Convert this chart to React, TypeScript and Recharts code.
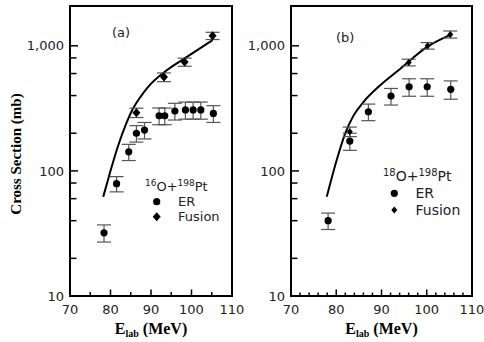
import React from "react";
import {
  ComposedChart,
  ErrorBar,
  Label,
  Legend,
  Line,
  ReferenceArea,
  Scatter,
  XAxis,
  YAxis,
} from "recharts";

// panel (a): 16O + 198Pt
const erAEnergy = [78.4, 81.5, 84.5, 86.4, 88.4, 92.0, 93.4, 95.9, 98.5, 100.4, 102.3, 105.4];
const erAValue = [32, 79, 142, 200, 212, 276, 276, 301, 307, 307, 307, 288];
const erAError = [5, 11, 21, 30, 32, 42, 42, 46, 48, 48, 48, 44];
const fusAEnergy = [86.4, 93.2, 98.3, 105.2];
const fusAValue = [292, 562, 741, 1202];
const fusAError = [25, 45, 55, 80];
const curveAEnergy = [78.2, 79.8, 81.8, 83.9, 85.5, 87.4, 89.3, 93.4, 98.3, 105.2];
const curveAValue = [62, 95, 156, 240, 312, 391, 470, 620, 793, 1111];

// panel (b): 18O + 198Pt
const erBEnergy = [78.2, 83.0, 87.1, 92.1, 96.1, 100.1, 105.3];
const erBValue = [40, 173, 297, 396, 470, 470, 449];
const erBError = [6, 27, 45, 60, 75, 75, 75];
const fusBEnergy = [83.0, 96.0, 100.2, 105.2];
const fusBValue = [206, 736, 1000, 1233];
const fusBError = [18, 45, 60, 80];
const curveBEnergy = [77.9, 80.1, 81.9, 83.75, 86.0, 89.6, 94.1, 100.0, 105.1];
const curveBValue = [62, 122, 196, 274, 355, 479, 653, 977, 1217];

const yTicks = [10, 20, 40, 60, 80, 100, 200, 400, 600, 800, 1000];
const xTicksA = [70, 75, 80, 85, 90, 95, 100, 105, 110];
const xTicksB = [70, 72, 74, 76, 78, 80, 82, 84, 86, 88, 90, 92, 94, 96, 98, 100, 102, 104, 106, 108, 110];

const Y_TOP = 2080;
const Y_TM = 6;
const X_TM = 8;
const TICK_FONT = "DejaVu Sans, sans-serif";
const SERIF = "Liberation Serif, Times New Roman, serif";

type Pt = { e: number; v: number; err?: number };
const pts = (es: number[], vs: number[], errs?: number[]): Pt[] =>
  es.map((e, i) => ({ e, v: vs[i], err: errs ? errs[i] : undefined }));

const Dot = (p: any) => <circle cx={p.cx} cy={p.cy} r={3.6} fill="#000" />;
const diamond = (s: number) => (p: any) => (
  <polygon
    points={`${p.cx},${p.cy - s - 0.5} ${p.cx + s},${p.cy} ${p.cx},${p.cy + s + 0.5} ${p.cx - s},${p.cy}`}
    fill="#000"
  />
);

const YTick = (props: any) => {
  const { x, y, payload } = props;
  const v = payload.value;
  const ax = x + Y_TM;
  const major = v === 10 || v === 100 || v === 1000;
  return (
    <g>
      {v !== 10 && (
        <line x1={ax} x2={ax + (major ? 8 : 6.5)} y1={y} y2={y} stroke="#000" strokeWidth={1.5} />
      )}
      {major && (
        <text x={x} y={y} dy="0.36em" textAnchor="end" fontFamily={TICK_FONT} fontSize={13} fill="#222">
          {v.toLocaleString("en-US")}
        </text>
      )}
    </g>
  );
};

const makeXTick = (minorLen: number) => (props: any) => {
  const { x, y, payload } = props;
  const v = payload.value;
  const ay = y - X_TM;
  const major = v % 10 === 0;
  return (
    <g>
      {v !== 70 && v !== 110 && (
        <line x1={x} x2={x} y1={ay} y2={ay - (major ? 6.5 : minorLen)} stroke="#000" strokeWidth={1.5} />
      )}
      {major && (
        <text x={x} y={y} dy="0.75em" textAnchor="middle" fontFamily={TICK_FONT} fontSize={13} fill="#222">
          {v}
        </text>
      )}
    </g>
  );
};

type Legendish = {
  tag: string;
  tagX: number;
  tagY: number;
  a: string;
  b: string;
  titleX: number;
  titleY: number;
  fs: number;
  supFs: number;
  markX: number;
  textX: number;
  erY: number;
  fusY: number;
  dSize: number;
};

function PanelKey({ k, w, h }: { k: Legendish; w: number; h: number }) {
  const D = diamond(k.dSize);
  return (
    <svg width={w} height={h} style={{ display: "block", overflow: "visible" }}>
      <text x={k.tagX} y={k.tagY} fontFamily={TICK_FONT} fontSize={13} fill="#222">
        {k.tag}
      </text>
      <text x={k.titleX} y={k.titleY} fontFamily={TICK_FONT} fontSize={k.fs} fill="#222">
        <tspan fontSize={k.supFs} dy={-5}>{k.a}</tspan>
        <tspan dy={5}>O+</tspan>
        <tspan fontSize={k.supFs} dy={-5}>{k.b}</tspan>
        <tspan dy={5}>Pt</tspan>
      </text>
      <Dot cx={k.markX} cy={k.erY} />
      <text x={k.textX} y={k.erY} dy="0.36em" fontFamily={TICK_FONT} fontSize={k.fs} fill="#222">
        ER
      </text>
      <D cx={k.markX} cy={k.fusY} />
      <text x={k.textX} y={k.fusY} dy="0.36em" fontFamily={TICK_FONT} fontSize={k.fs} fill="#222">
        Fusion
      </text>
    </svg>
  );
}

function Panel(props: {
  left: number;
  width: number;
  mL: number;
  mR: number;
  er: Pt[];
  fus: Pt[];
  curve: Pt[];
  xTicks: number[];
  minorLen: number;
  k: Legendish;
  yTitle?: boolean;
}) {
  const { left, width, mL, mR, er, fus, curve, xTicks, minorLen, k, yTitle } = props;
  const plotL = mL + 60;
  const plotW = width - plotL - mR;
  const cx = plotL + plotW / 2;
  return (
    <div style={{ position: "absolute", left, top: 0 }}>
      <ComposedChart width={width} height={342} margin={{ top: 6, right: mR, bottom: 16, left: mL }}>
        <XAxis
          type="number"
          dataKey="e"
          domain={[70, 110]}
          ticks={xTicks}
          interval={0}
          allowDataOverflow
          axisLine={false}
          tickLine={false}
          tickSize={0}
          tickMargin={X_TM}
          height={30}
          tick={makeXTick(minorLen)}
        >
          <Label
            content={() => (
              <text x={cx} y={334} textAnchor="middle" fontFamily={SERIF} fontWeight="bold" fontSize={16} fill="#000">
                E<tspan fontSize={10} dy={3}>lab</tspan>
                <tspan dy={-3}> (MeV)</tspan>
              </text>
            )}
          />
        </XAxis>
        <YAxis
          type="number"
          dataKey="v"
          scale="log"
          domain={[10, Y_TOP]}
          ticks={yTicks}
          interval={0}
          allowDataOverflow
          axisLine={false}
          tickLine={false}
          tickSize={0}
          tickMargin={Y_TM}
          width={60}
          tick={YTick}
        >
          {yTitle && (
            <Label
              content={() => (
                <text
                  transform="translate(21,154) rotate(-90)"
                  textAnchor="middle"
                  fontFamily={SERIF}
                  fontWeight="bold"
                  fontSize={15}
                  fill="#000"
                >
                  Cross Section (mb)
                </text>
              )}
            />
          )}
        </YAxis>
        <ReferenceArea x1={70} x2={110} y1={10} y2={Y_TOP} fill="none" stroke="#000" strokeWidth={2} />
        <Line
          data={curve}
          dataKey="v"
          type="monotone"
          dot={false}
          stroke="#000"
          strokeWidth={2}
          isAnimationActive={false}
        />
        <Scatter data={er} dataKey="v" shape={Dot} isAnimationActive={false}>
          <ErrorBar dataKey="err" direction="y" width={7} stroke="#555" strokeWidth={1.2} />
        </Scatter>
        <Scatter data={fus} dataKey="v" shape={diamond(k.dSize)} isAnimationActive={false}>
          <ErrorBar dataKey="err" direction="y" width={7} stroke="#555" strokeWidth={1.2} />
        </Scatter>
        <Legend
          layout="vertical"
          align="center"
          verticalAlign="middle"
          wrapperStyle={{ left: plotL, top: 6, width: plotW, height: 290, pointerEvents: "none" }}
          content={() => <PanelKey k={k} w={plotW} h={290} />}
        />
      </ComposedChart>
    </div>
  );
}

const keyA: Legendish = {
  tag: "(a)", tagX: 42, tagY: 31, a: "16", b: "198", titleX: 75, titleY: 185, fs: 13, supFs: 9,
  markX: 86.7, textX: 108, erY: 195.7, fusY: 210.7, dSize: 4,
};
const keyB: Legendish = {
  tag: "(b)", tagX: 45, tagY: 36, a: "18", b: "198", titleX: 92, titleY: 175, fs: 14, supFs: 10,
  markX: 103.3, textX: 124.5, erY: 187.3, fusY: 204, dSize: 3,
};

export default function App() {
  return (
    <div style={{ position: "absolute", left: 0, top: 0, width: 484, height: 342, background: "#fff" }}>
      <Panel
        left={0}
        width={262}
        mL={10}
        mR={30}
        er={pts(erAEnergy, erAValue, erAError)}
        fus={pts(fusAEnergy, fusAValue, fusAError)}
        curve={pts(curveAEnergy, curveAValue)}
        xTicks={xTicksA}
        minorLen={4}
        k={keyA}
        yTitle
      />
      <Panel
        left={220}
        width={264}
        mL={11}
        mR={12}
        er={pts(erBEnergy, erBValue, erBError)}
        fus={pts(fusBEnergy, fusBValue, fusBError)}
        curve={pts(curveBEnergy, curveBValue)}
        xTicks={xTicksB}
        minorLen={3.5}
        k={keyB}
      />
    </div>
  );
}
